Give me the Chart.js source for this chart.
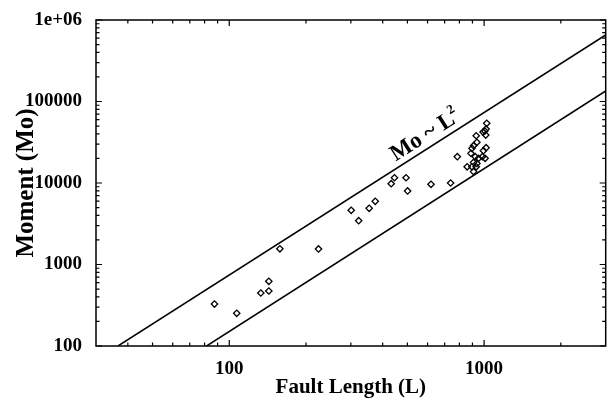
<!DOCTYPE html>
<html>
<head>
<meta charset="utf-8">
<script src="https://cdn.jsdelivr.net/npm/chart.js@4/dist/chart.umd.min.js"></script>
<style>
  body { margin: 0; background: #fff; }
  #wrap { width: 611px; height: 400px; }
</style>
</head>
<body>
<div id="wrap"><canvas id="faultChart" width="611" height="400"></canvas></div>
<script>
// fault length (L) and moment (Mo)
const faultLength = [
  87.5, 107, 133, 143, 143, 158, 224, 301, 322, 354, 374, 432, 445, 494, 501,
  619, 739, 785, 1024, 1018, 1006, 991, 1015, 931, 937, 909, 896, 1018, 994,
  888, 923, 951, 985, 1009, 909, 937, 858, 896, 931, 909
];
const moment = [
  327, 252, 447, 473, 622, 1560, 1550, 4620, 3450, 4890, 5960, 9800, 11600, 11600, 7980,
  9640, 10000, 21000, 54000, 46000, 43500, 42200, 38800, 38000, 31600, 28700, 26600, 27100, 24900,
  23100, 21000, 20100, 21000, 20100, 17900, 17400, 15800, 15800, 15800, 13800
];

// the two Mo ~ L^2 bounding lines (endpoints)
const upperLineL = [36.6, 3000];
const upperLineMo = [100, 655000];
const lowerLineL = [81.5, 3000];
const lowerLineMo = [100, 134600];

const xTickValues = [100, 1000];
const yTickValues = [100, 1000, 10000, 100000, 1000000];
const yTickLabels = ["100", "1000", "10000", "100000", "1e+06"];

const labelText = "Mo ~ L";
const labelSup = "2";
const labelAt = { L: 575, Mo: 36500 };

const serif = "'Liberation Serif', 'DejaVu Serif', serif";

function toPoints(xs, ys) {
  return xs.map((x, i) => ({ x: x, y: ys[i] }));
}

function minorTicks(min, max) {
  const out = [];
  for (let d = 1; d <= 1e6; d *= 10) {
    for (let m = 2; m <= 9; m++) {
      const v = m * d;
      if (v > min && v < max) out.push(v);
    }
  }
  return out;
}

// box with inward ticks on all four sides + the rotated label
const frameAndLabel = {
  id: "frameAndLabel",
  afterDraw(chart) {
    const ctx = chart.ctx;
    const { left, right, top, bottom } = chart.chartArea;
    const xs = chart.scales.x;
    const ys = chart.scales.y;

    ctx.save();
    ctx.strokeStyle = "#000";
    ctx.lineWidth = 1.5;
    ctx.strokeRect(left, top, right - left, bottom - top);

    ctx.lineWidth = 1.2;
    const tickX = (v, len) => {
      const px = xs.getPixelForValue(v);
      ctx.beginPath();
      ctx.moveTo(px, bottom); ctx.lineTo(px, bottom - len);
      ctx.moveTo(px, top); ctx.lineTo(px, top + len);
      ctx.stroke();
    };
    const tickY = (v, len) => {
      const py = ys.getPixelForValue(v);
      ctx.beginPath();
      ctx.moveTo(left, py); ctx.lineTo(left + len, py);
      ctx.moveTo(right, py); ctx.lineTo(right - len, py);
      ctx.stroke();
    };
    xTickValues.forEach((v) => tickX(v, 6));
    minorTicks(xs.min, xs.max).forEach((v) => tickX(v, 3.5));
    yTickValues.forEach((v) => tickY(v, 6));
    minorTicks(ys.min, ys.max).forEach((v) => tickY(v, 3.5));

    // label follows the upper line's slope
    const ax = xs.getPixelForValue(upperLineL[0]);
    const ay = ys.getPixelForValue(upperLineMo[0]);
    const bx = xs.getPixelForValue(upperLineL[1]);
    const by = ys.getPixelForValue(upperLineMo[1]);
    const angle = Math.atan2(by - ay, bx - ax);

    ctx.translate(xs.getPixelForValue(labelAt.L), ys.getPixelForValue(labelAt.Mo));
    ctx.rotate(angle);
    ctx.fillStyle = "#000";
    ctx.font = "bold 23px " + serif;
    ctx.textAlign = "center";
    ctx.textBaseline = "middle";
    const w = ctx.measureText(labelText).width;
    ctx.fillText(labelText, 0, 0);
    ctx.font = "bold 13px " + serif;
    ctx.textAlign = "left";
    ctx.fillText(labelSup, w / 2 - 1, -8);
    ctx.restore();
  }
};

const ctx = document.getElementById("faultChart").getContext("2d");

new Chart(ctx, {
  type: "scatter",
  data: {
    datasets: [
      {
        data: toPoints(faultLength, moment),
        pointStyle: "rectRot",
        pointRadius: 3.2,
        pointBorderWidth: 1.3,
        pointBorderColor: "#000",
        pointBackgroundColor: "rgba(255,255,255,0)",
        showLine: false
      },
      {
        data: toPoints(upperLineL, upperLineMo),
        showLine: true,
        borderColor: "#000",
        borderWidth: 1.5,
        pointRadius: 0
      },
      {
        data: toPoints(lowerLineL, lowerLineMo),
        showLine: true,
        borderColor: "#000",
        borderWidth: 1.5,
        pointRadius: 0
      }
    ]
  },
  options: {
    responsive: false,
    animation: false,
    devicePixelRatio: 1,
    layout: { padding: { top: 20, right: 1, left: 0, bottom: 0 } },
    plugins: {
      legend: { display: false },
      tooltip: { enabled: false }
    },
    scales: {
      x: {
        type: "logarithmic",
        min: 30,
        max: 3000,
        grid: { display: false },
        border: { display: false },
        afterBuildTicks: (scale) => {
          scale.ticks = xTickValues.map((v) => ({ value: v }));
        },
        afterFit: (scale) => { scale.height = 54; },
        ticks: {
          color: "#000",
          font: { family: serif, size: 19, weight: "bold" },
          padding: 4,
          maxRotation: 0,
          callback: (v) => String(v)
        },
        title: {
          display: true,
          text: "Fault Length (L)",
          color: "#000",
          font: { family: serif, size: 21, weight: "bold" },
          padding: { top: 0, bottom: 0 }
        }
      },
      y: {
        type: "logarithmic",
        min: 100,
        max: 1000000,
        grid: { display: false },
        border: { display: false },
        afterBuildTicks: (scale) => {
          scale.ticks = yTickValues.map((v) => ({ value: v }));
        },
        afterFit: (scale) => { scale.width = 96; },
        ticks: {
          color: "#000",
          font: { family: serif, size: 19, weight: "bold" },
          padding: 6,
          callback: (v) => yTickLabels[yTickValues.indexOf(v)]
        },
        title: {
          display: true,
          text: "Moment (Mo)",
          color: "#000",
          font: { family: serif, size: 25, weight: "bold" },
          padding: { top: 12, bottom: 0 }
        }
      }
    }
  },
  plugins: [frameAndLabel]
});
</script>
</body>
</html>
